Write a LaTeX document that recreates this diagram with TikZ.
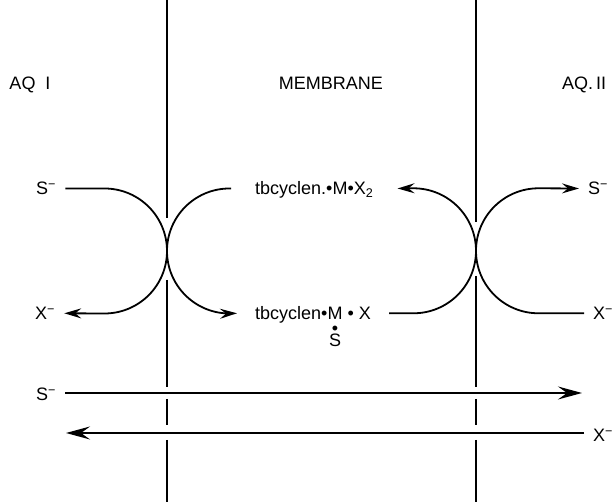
\documentclass[tikz,border=0pt]{standalone}
\usepackage{fontspec}
\setmainfont{Liberation Sans}
\usetikzlibrary{arrows.meta,positioning}

\begin{document}
\begin{tikzpicture}[x=1pt,y=1pt,
  lab/.style={font=\fontsize{18}{22}\selectfont, inner xsep=9pt, inner ysep=0pt,
    text height=13pt, text depth=0pt},
  wall/.style={line width=1.2pt},
  curve/.style={line width=1.8pt},
  curvetip/.style={-{Stealth[length=17pt,width=10pt,inset=6pt]}},
  longarrow/.style={line width=2pt,-{Stealth[length=24pt,width=13pt,inset=9pt]}}]
\useasboundingbox (0,0) rectangle (614,502);

%membrane walls, broken where the fluxes cross
\foreach \x/\a/\b in {167/284/222, 476/280/226}{
  \draw[wall] (\x,502) -- (\x,\a);
  \draw[wall] (\x,\b) -- (\x,115);
  \draw[wall] (\x,103) -- (\x,77);
  \draw[wall] (\x,62) -- (\x,0);
}

%phases
\node[lab] (aqI) at (30,419) {AQ\ \ I};
\node[lab] (memb) at (331,419) {MEMBRANE};
\node[lab,anchor=west] (aqII) at (553,419) {AQ.\,II};

%anions in the water phases
\node[lab,anchor=west] (sI) at (27,313.5) {S\textsuperscript{−}};
\node[lab,anchor=west] (xI) at (26,188.7) {X\textsuperscript{−}};
\node[lab,anchor=west] (sII) at (579,313.5) {S\textsuperscript{−}};
\node[lab,anchor=west] (xII) at (584,188.7) {X\textsuperscript{−}};

%carrier complexes in the membrane
\node[lab,anchor=west,inner xsep=24pt] (cX2) at (231,313.5)
  {tbcyclen.\textbullet M\textbullet X\textsubscript{2}};
\node[lab,anchor=west,inner xsep=18pt] (cXS) at (237,188.7)
  {tbcyclen\textbullet\begin{tabular}[t]{@{}c@{}}M\\[-7pt]\textbullet\\[-10pt]S\end{tabular}\ \textbullet\ X};

%exchange at interface I
\coordinate (cIa) at (104.5,313.5);
\coordinate (cIb) at (229.5,313.5);
\draw[curve,curvetip] (sI.east) -- (cIa) arc[start angle=90,end angle=-90,radius=62.5] -- (xI.east);
\draw[curve,curvetip] (cX2.west) -- (cIb) arc[start angle=90,end angle=270,radius=62.5] -- (cXS.west);

%exchange at interface II
\coordinate (cIIa) at (413.5,188.7);
\coordinate (cIIb) at (538.5,188.7);
\draw[curve,curvetip] (cXS.east) -- (cIIa) arc[start angle=-90,end angle=90,radius=62.5] -- (cX2.east);
\draw[curve,curvetip] (xII.west) -- (cIIb) arc[start angle=270,end angle=90,radius=62.5] -- (sII.west);

%overall fluxes
\node[lab,anchor=west] (sFlux) at (27,108) {S\textsuperscript{−}};
\node[lab,anchor=west] (xFlux) at (584,67) {X\textsuperscript{−}};
\coordinate (sEnd) at (582,109);
\coordinate (xEnd) at (66,69);
\draw[longarrow] (sFlux.east |- sEnd) -- (sEnd);
\draw[longarrow] (xFlux.west |- xEnd) -- (xEnd);
\end{tikzpicture}
\end{document}
